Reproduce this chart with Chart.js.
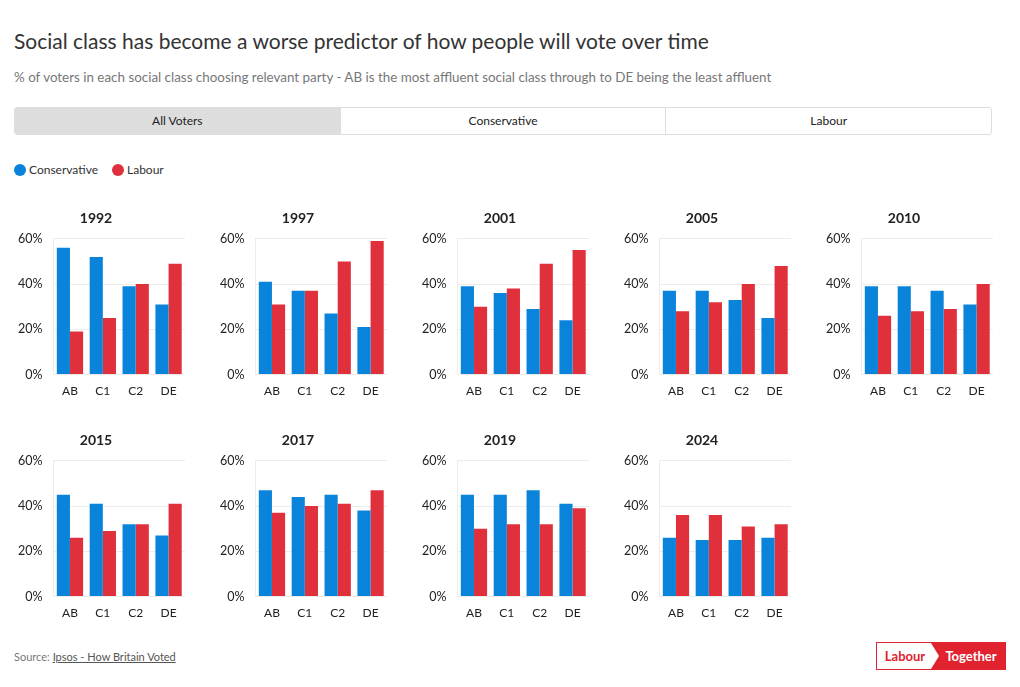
<!DOCTYPE html>
<html lang="en">
<head>
  <meta charset="UTF-8">
  <title>Social class and voting</title>
  <script src="https://cdn.jsdelivr.net/npm/chart.js"></script>
  <style>
    body { margin: 0; background: #fff; font-family: Lato, "Open Sans", sans-serif; color: #333; }
    .wrap { position: relative; width: 1020px; height: 687px; }
    h1 { position: absolute; left: 14px; top: 28px; margin: 0; font-size: 21px; font-weight: 400; color: #333; }
    .sub { position: absolute; left: 14px; top: 69px; font-size: 13.4px; color: #777; }
    .tabs { position: absolute; left: 14px; top: 107px; width: 976px; height: 26px; border: 1px solid #ddd; border-radius: 3px; display: flex; overflow: hidden; }
    .tabs div { flex: 1; text-align: center; line-height: 26px; font-size: 12px; color: #222; border-left: 1px solid #ddd; }
    .tabs div:first-child { border-left: none; background: #ddd; }
    .legend { position: absolute; left: 14px; top: 162px; font-size: 12px; color: #333; display: flex; gap: 14px; }
    .legend span { display: inline-flex; align-items: center; }
    .legend i { width: 12px; height: 12px; border-radius: 50%; display: inline-block; margin-right: 3px; }
    .panel { position: absolute; width: 178px; height: 196px; }
    .src { position: absolute; left: 14px; top: 650px; font-size: 11px; color: #777; }
    .src u { color: #555; }
    .logo { position: absolute; left: 876px; top: 642px; width: 128px; height: 26px; border: 1px solid #e0232f; display: flex; font-size: 13px; font-weight: 700; }
    .logo .a { width: 56px; color: #e0232f; line-height: 26px; text-align: center; background: #fff; }
    .logo .b { flex: 1; color: #fff; background: #e0232f; line-height: 26px; text-align: center; padding-left: 6px; clip-path: polygon(0 0, 100% 0, 100% 100%, 0 100%, 8px 50%); margin-left: -2px; }
  </style>
</head>
<body>
<div class="wrap">
  <h1>Social class has become a worse predictor of how people will vote over time</h1>
  <div class="sub">% of voters in each social class choosing relevant party - AB is the most affluent social class through to DE being the least affluent</div>
  <div class="tabs"><div>All Voters</div><div>Conservative</div><div>Labour</div></div>
  <div class="legend">
    <span><i style="background:#0a84db"></i>Conservative</span>
    <span><i style="background:#e0303b"></i>Labour</span>
  </div>
  <div id="panels"></div>
  <div class="src">Source: <u>Ipsos - How Britain Voted</u></div>
  <div class="logo"><div class="a">Labour</div><div class="b">Together</div></div>
</div>

<script>
  // social classes and election years
  const classes = ['AB', 'C1', 'C2', 'DE'];
  const years = ['1992', '1997', '2001', '2005', '2010', '2015', '2017', '2019', '2024'];

  // % share by class, one row per year
  const conservative = [
    [56, 52, 39, 31],
    [41, 37, 27, 21],
    [39, 36, 29, 24],
    [37, 37, 33, 25],
    [39, 39, 37, 31],
    [45, 41, 32, 27],
    [47, 44, 45, 38],
    [45, 45, 47, 41],
    [26, 25, 25, 26]
  ];
  const labour = [
    [19, 25, 40, 49],
    [31, 37, 50, 59],
    [30, 38, 49, 55],
    [28, 32, 40, 48],
    [26, 28, 29, 40],
    [26, 29, 32, 41],
    [37, 40, 41, 47],
    [30, 32, 32, 39],
    [36, 36, 31, 32]
  ];
  const yTicks = [0, 20, 40, 60];

  const BLUE = '#0a84db';
  const RED = '#e0303b';

  const host = document.getElementById('panels');

  years.forEach((yr, i) => {
    const col = i % 5, row = Math.floor(i / 5);
    const div = document.createElement('div');
    div.className = 'panel';
    div.style.left = (7 + col * 202) + 'px';
    div.style.top = (203 + row * 222) + 'px';
    const cv = document.createElement('canvas');
    div.appendChild(cv);
    host.appendChild(div);

    new Chart(cv, {
      type: 'bar',
      data: {
        labels: classes,
        datasets: [
          { label: 'Conservative', data: conservative[i], backgroundColor: BLUE },
          { label: 'Labour', data: labour[i], backgroundColor: RED }
        ]
      },
      options: {
        responsive: true,
        maintainAspectRatio: false,
        animation: false,
        datasets: { bar: { categoryPercentage: 0.8, barPercentage: 1.0 } },
        layout: { padding: 0 },
        plugins: {
          legend: { display: false },
          tooltip: { enabled: false },
          title: {
            display: true, text: yr, color: '#222',
            font: { family: 'Lato', size: 14, weight: 'bold' },
            padding: { top: 7, bottom: 12 }
          }
        },
        scales: {
          x: {
            grid: { display: false },
            border: { display: false },
            ticks: { color: '#222', font: { family: 'Lato', size: 12 }, padding: 1 }
          },
          y: {
            min: 0, max: 60,
            afterBuildTicks: ax => { ax.ticks = yTicks.map(v => ({ value: v })); },
            grid: { color: '#ececec', drawTicks: false },
            border: { display: true, color: '#ececec' },
            ticks: {
              color: '#222', font: { family: 'Lato', size: 12.5 }, padding: 11,
              callback: v => v + '%'
            }
          }
        }
      }
    });
  });
</script>
</body>
</html>
